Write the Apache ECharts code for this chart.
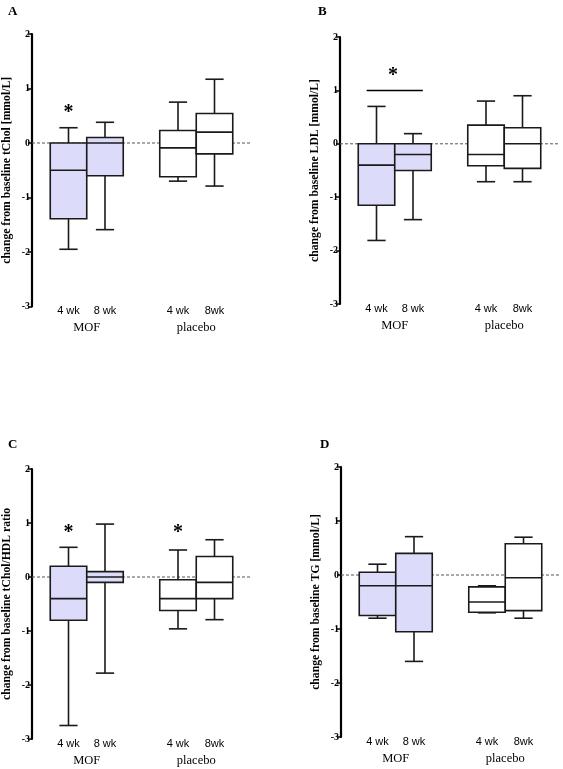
<!DOCTYPE html>
<html><head><meta charset="utf-8">
<script src="https://cdn.jsdelivr.net/npm/echarts@6/dist/echarts.min.js"></script>
<style>html,body{margin:0;padding:0;background:#fff}#c{width:563px;height:769px}</style>
</head><body><div id="c"></div>
<script>
const panelLetters = ['A', 'B', 'C', 'D'];
const yTitles = [
  'change from baseline tChol [mmol/L]',
  'change from baseline LDL [mmol/L]',
  'change from baseline tChol/HDL ratio',
  'change from baseline TG [mmol/L]'
];
const timeLabels = ['4 wk', '8 wk', '4 wk', '8wk'];
const groupLabels = ['MOF', 'placebo'];
const boxSlots = [1, 2, 4, 5];
const groupSlots = [1.5, 4.5];
const boxGroup = [0, 0, 1, 1];
const yTicks = [-3, -2, -1, 0, 1, 2];
// each box: [min, Q1, median, Q3, max]
const tCholBoxes = [[-1.95, -1.39, -0.5, 0, 0.28], [-1.59, -0.6, 0, 0.1, 0.38], [-0.7, -0.62, -0.09, 0.23, 0.75], [-0.79, -0.2, 0.2, 0.54, 1.17]];
const ldlBoxes = [[-1.81, -1.15, -0.4, 0, 0.7], [-1.42, -0.5, -0.2, 0, 0.19], [-0.71, -0.41, -0.2, 0.35, 0.8], [-0.71, -0.46, 0, 0.3, 0.9]];
const ratioBoxes = [[-2.75, -0.8, -0.4, 0.2, 0.55], [-1.78, -0.1, 0, 0.1, 0.98], [-0.96, -0.62, -0.4, -0.05, 0.5], [-0.79, -0.4, -0.1, 0.38, 0.69]];
const tgBoxes = [[-0.8, -0.75, -0.2, 0.05, 0.2], [-1.6, -1.05, -0.2, 0.4, 0.71], [-0.7, -0.69, -0.5, -0.22, -0.2], [-0.8, -0.66, -0.05, 0.58, 0.7]];
// significance asterisks [x, y] and bracket lines [[x0,y],[x1,y]]
const starsA = [[1, 0.6]];
const starsB = [[1.45, 1.33]];
const starsC = [[1, 0.87], [4, 0.87]];
const starsD = [];
const barB = [[0.73, 1.0], [2.27, 1.0]];

const panels = [
  {boxes: tCholBoxes, stars: starsA, bar: null},
  {boxes: ldlBoxes, stars: starsB, bar: barB},
  {boxes: ratioBoxes, stars: starsC, bar: null},
  {boxes: tgBoxes, stars: starsD, bar: null}
];
const grids = [
  {left: 32, top: 34, width: 219, height: 272.5},
  {left: 340, top: 37, width: 219, height: 267},
  {left: 32, top: 469, width: 219, height: 270},
  {left: 341, top: 467, width: 219, height: 270}
];
const fills = ['#dcdcfa', '#ffffff'];
const serif = "'Liberation Serif', 'Times New Roman', serif";
const sans = "'Liberation Sans', Arial, sans-serif";

const option = {
  animation: false,
  backgroundColor: '#fff',
  title: panelLetters.map((t, i) => ({
    text: t,
    left: [3, 313, 3, 315][i],
    top: [0, 0, 433, 433][i],
    textStyle: {fontFamily: serif, fontWeight: 'bold', fontSize: 13, color: '#000'}
  })),
  grid: grids,
  xAxis: [],
  yAxis: [],
  series: []
};

panels.forEach((p, i) => {
  option.xAxis.push({
    type: 'value', gridIndex: i, min: 0, max: 6, interval: 1,
    axisLine: {show: false}, axisTick: {show: false}, splitLine: {show: false},
    axisLabel: {
      margin: -1, fontFamily: sans, fontSize: 11, color: '#000',
      formatter: v => { const k = boxSlots.indexOf(v); return k >= 0 ? timeLabels[k] : ''; }
    }
  });
  option.xAxis.push({
    type: 'value', gridIndex: i, min: 0, max: 6, interval: 0.5, position: 'bottom', offset: 15,
    axisLine: {show: false}, axisTick: {show: false}, splitLine: {show: false},
    axisLabel: {
      margin: 0, fontFamily: serif, fontSize: 12.5, color: '#000',
      formatter: v => { const k = groupSlots.indexOf(v); return k >= 0 ? groupLabels[k] : ''; }
    }
  });
  option.yAxis.push({
    type: 'value', gridIndex: i, min: yTicks[0], max: yTicks[yTicks.length - 1], interval: 1,
    name: yTitles[i], nameLocation: 'middle', nameGap: 19,
    nameTextStyle: {fontFamily: serif, fontWeight: 'bold', fontSize: 11.7, color: '#000'},
    axisLine: {show: true, lineStyle: {color: '#000', width: 2.2}},
    axisTick: {show: true, length: 4, lineStyle: {color: '#000', width: 1.5}},
    splitLine: {show: false},
    axisLabel: {margin: 2, fontFamily: serif, fontWeight: 'bold', fontSize: 10, color: '#000'}
  });
  const xi = i * 2;
  option.series.push({
    type: 'line', xAxisIndex: xi, yAxisIndex: i, symbol: 'none', silent: true,
    data: [[0, 0], [6, 0]],
    lineStyle: {color: '#555', width: 1, type: [3, 2]}, z: 1
  });
  option.series.push({
    type: 'custom', xAxisIndex: xi, yAxisIndex: i, z: 3,
    data: p.boxes.map((b, k) => [boxSlots[k]].concat(b).concat([boxGroup[k]])),
    renderItem: (params, api) => {
      const x = api.value(0);
      const mn = api.coord([x, api.value(1)]);
      const q1 = api.coord([x, api.value(2)]);
      const md = api.coord([x, api.value(3)]);
      const q3 = api.coord([x, api.value(4)]);
      const mx = api.coord([x, api.value(5)]);
      const w = api.size([1, 0])[0];
      const cw = w * 0.5;
      const cx = mn[0];
      const stroke = {stroke: '#1a1a1a', lineWidth: 1.6};
      return {
        type: 'group',
        children: [
          {type: 'line', shape: {x1: cx, y1: mx[1], x2: cx, y2: q3[1]}, style: stroke},
          {type: 'line', shape: {x1: cx, y1: q1[1], x2: cx, y2: mn[1]}, style: stroke},
          {type: 'line', shape: {x1: cx - cw / 2, y1: mx[1], x2: cx + cw / 2, y2: mx[1]}, style: stroke},
          {type: 'line', shape: {x1: cx - cw / 2, y1: mn[1], x2: cx + cw / 2, y2: mn[1]}, style: stroke},
          {type: 'rect', shape: {x: cx - w / 2, y: q3[1], width: w, height: q1[1] - q3[1]},
            style: {fill: fills[api.value(6)], stroke: '#1a1a1a', lineWidth: 1.6}},
          {type: 'line', shape: {x1: cx - w / 2, y1: md[1], x2: cx + w / 2, y2: md[1]}, style: stroke}
        ]
      };
    }
  });
  if (p.stars.length) {
    option.series.push({
      type: 'custom', xAxisIndex: xi, yAxisIndex: i, z: 4,
      data: p.stars,
      renderItem: (params, api) => {
        const pt = api.coord([api.value(0), api.value(1)]);
        return {type: 'text', x: pt[0], y: pt[1] + 3,
          style: {text: '*', fontFamily: serif, fontWeight: 'bold', fontSize: 20, fill: '#000',
            align: 'center', verticalAlign: 'middle'}};
      }
    });
  }
  if (p.bar) {
    option.series.push({
      type: 'line', xAxisIndex: xi, yAxisIndex: i, symbol: 'none', silent: true,
      data: p.bar, lineStyle: {color: '#000', width: 1.5}, z: 4
    });
  }
});

const chart = echarts.init(document.getElementById('c'), null, {renderer: 'canvas'});
chart.setOption(option);
</script>
</body></html>
